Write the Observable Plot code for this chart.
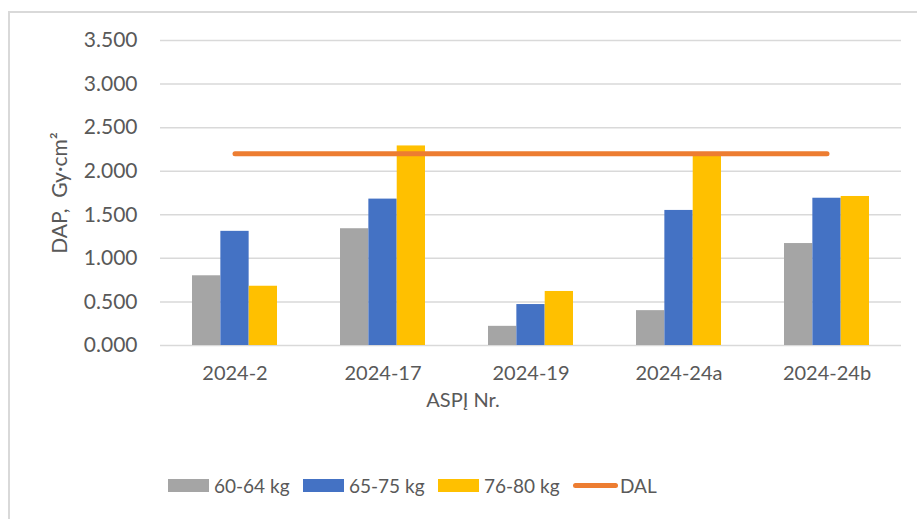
<!DOCTYPE html>
<html>
<head>
<meta charset="utf-8">
<script src="https://cdn.jsdelivr.net/npm/d3@7"></script>
<script src="https://cdn.jsdelivr.net/npm/@observablehq/plot@0.6"></script>
<style>
  body { margin: 0; background: #fff; font-family: Lato, "Open Sans", sans-serif; }
  #frame { position: absolute; left: 8px; top: 11px; width: 907px; height: 506px;
           border-left: 2px solid #d9d9d9; border-top: 2px solid #d9d9d9; background: #fff; }
  #legend { display: flex; align-items: center; margin-top: 41px; padding-left: 158px;
            font-size: 19px; color: #595959; }
  .item { display: flex; align-items: center; width: 135px; }
  .item.last { width: auto; }
  .sw { width: 41px; height: 13px; margin-right: 5px; }
  .ln { width: 45px; height: 5px; border-radius: 3px; margin-right: 2px; }
</style>
</head>
<body>
<div id="frame"><div id="chart"></div><div id="legend"></div></div>
<script>
const categories = ["2024-2", "2024-17", "2024-19", "2024-24a", "2024-24b"];
const seriesNames = ["60-64 kg", "65-75 kg", "76-80 kg"];
const v6064 = [0.80, 1.34, 0.22, 0.40, 1.17];
const v6575 = [1.31, 1.68, 0.47, 1.55, 1.69];
const v7680 = [0.68, 2.29, 0.62, 2.21, 1.71];
const dalName = "DAL";
const dal = [2.2, 2.2, 2.2, 2.2, 2.2];
const yTicks = [0, 0.5, 1, 1.5, 2, 2.5, 3, 3.5];
const colors = ["#A5A5A5", "#4472C4", "#FFC000"];
const dalColor = "#ED7D31";

const W = 907, H = 420, mL = 150, mR = 16, mT = 27, mB = 88;
const pInner = 0.426;
const step = (W - mL - mR) / categories.length;
const bw = step * (1 - pInner);
const third = bw / 3;

const seriesVals = [v6064, v6575, v7680];
const barMarks = seriesVals.map((vals, k) =>
  Plot.barY(categories.map((c, i) => ({cat: c, v: vals[i]})), {
    x: "cat", y: "v", fill: colors[k],
    insetLeft: k * third, insetRight: (2 - k) * third
  })
);
const dalData = categories.map((c, i) => ({cat: c, v: dal[i]}));

const chart = Plot.plot({
  width: W, height: H,
  marginLeft: mL, marginRight: mR, marginTop: mT, marginBottom: mB,
  style: {fontFamily: "Lato, 'Open Sans', sans-serif", fontSize: "20px", color: "#595959", background: "#fff"},
  x: {type: "band", domain: categories, paddingInner: pInner, paddingOuter: pInner / 2},
  y: {domain: [0, 3.5]},
  marks: [
    Plot.gridY({ticks: yTicks, stroke: "#d9d9d9", strokeOpacity: 1, strokeWidth: 1.5}),
    ...barMarks,
    Plot.lineY(dalData, {x: "cat", y: "v", stroke: dalColor, strokeWidth: 5, strokeLinecap: "round"}),
    Plot.axisY({ticks: yTicks, tickFormat: d3.format(".3f"), tickSize: 0, tickPadding: 23, fontSize: 21,
                label: "DAP,\u00a0 Gy·cm²", labelAnchor: "center", labelOffset: 108, labelArrow: "none"}),
    Plot.axisX({tickSize: 0, tickPadding: 20, label: null}),
    Plot.text(["ASPĮ Nr."], {text: d => d, frameAnchor: "bottom", dx: -68, dy: 55, lineAnchor: "middle", fill: "#595959"})
  ]
});
document.getElementById("chart").appendChild(chart);

const legend = document.getElementById("legend");
seriesNames.forEach((name, k) => {
  const it = document.createElement("div"); it.className = "item";
  const sw = document.createElement("div"); sw.className = "sw"; sw.style.background = colors[k];
  const t = document.createElement("span"); t.textContent = name;
  it.appendChild(sw); it.appendChild(t); legend.appendChild(it);
});
{
  const it = document.createElement("div"); it.className = "item last";
  const sw = document.createElement("div"); sw.className = "ln"; sw.style.background = dalColor;
  const t = document.createElement("span"); t.textContent = dalName;
  it.appendChild(sw); it.appendChild(t); legend.appendChild(it);
}
</script>
</body>
</html>
